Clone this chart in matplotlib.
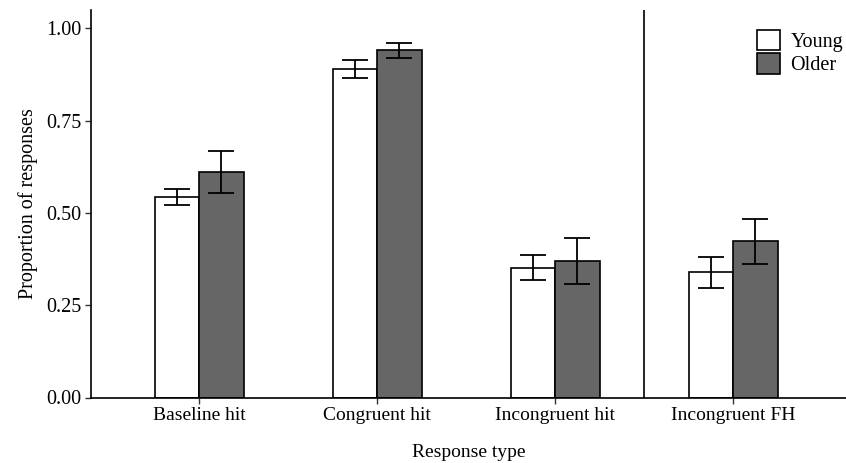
import matplotlib
matplotlib.use("Agg")
import matplotlib.pyplot as plt
from matplotlib.patches import Patch
import numpy as np

categories = ["Baseline hit", "Congruent hit", "Incongruent hit", "Incongruent FH"]
groups = ["Young", "Older"]
young_mean = [0.544, 0.891, 0.352, 0.339]
young_lo = [0.521, 0.867, 0.318, 0.297]
young_hi = [0.566, 0.914, 0.386, 0.380]
older_mean = [0.612, 0.941, 0.370, 0.423]
older_lo = [0.554, 0.920, 0.308, 0.363]
older_hi = [0.668, 0.961, 0.431, 0.484]
y_ticks = [0.0, 0.25, 0.5, 0.75, 1.0]
y_ticklabels = ["0.00", "0.25", "0.50", "0.75", "1.00"]

plt.rcParams['font.family'] = ['Liberation Serif', 'DejaVu Serif']

fig = plt.figure(figsize=(8.46, 4.63), dpi=100)
ax = fig.add_axes([91/846, 1 - 397.5/463, 1 - 91/846, (397.5 - 10)/463])

x = np.arange(1, len(categories) + 1)
w = 0.25
colors = {"Young": "white", "Older": "#666666"}
data = {"Young": (young_mean, young_lo, young_hi), "Older": (older_mean, older_lo, older_hi)}
offsets = {"Young": -w/2, "Older": w/2}
for g in groups:
    m, lo, hi = data[g]
    m = np.array(m); lo = np.array(lo); hi = np.array(hi)
    xs = x + offsets[g]
    ax.bar(xs, m, width=w, color=colors[g], edgecolor="black", linewidth=1.2, zorder=2)
    ax.errorbar(xs, m, yerr=[m - lo, hi - m], fmt="none", ecolor="black",
                elinewidth=1.3, capsize=9.7, capthick=1.3, zorder=3)

ax.axvline(3.5, color="black", linewidth=1.2, zorder=1)

ax.set_xlim(1 - 108/178, 1 + (846 - 199)/178)
ax.set_ylim(0, 1.05)
ax.set_xticks(x)
ax.set_xticklabels(categories, fontsize=14)
ax.set_yticks(y_ticks)
ax.set_yticklabels(y_ticklabels, fontsize=14.5)
ax.tick_params(axis="both", length=4, width=1.0, color="#333333", labelcolor="black", pad=3)
ax.set_xlabel("Response type", fontsize=14, labelpad=14)
ax.set_ylabel("Proportion of responses", fontsize=14.5, labelpad=6)

for s in ["top", "right"]:
    ax.spines[s].set_visible(False)
for s in ["left", "bottom"]:
    ax.spines[s].set_linewidth(1.2)
    ax.spines[s].set_color("black")

handles = [Patch(facecolor=colors[g], edgecolor="black", linewidth=1.2, label=g) for g in groups]
leg = ax.legend(handles=handles, loc="upper right", bbox_to_anchor=(1.012, 0.98), frameon=False,
                fontsize=14.5, handlelength=1.15, handleheight=1.2, handletextpad=0.5,
                labelspacing=0.05, borderaxespad=0.2)

fig.savefig("out.png", dpi=100)
